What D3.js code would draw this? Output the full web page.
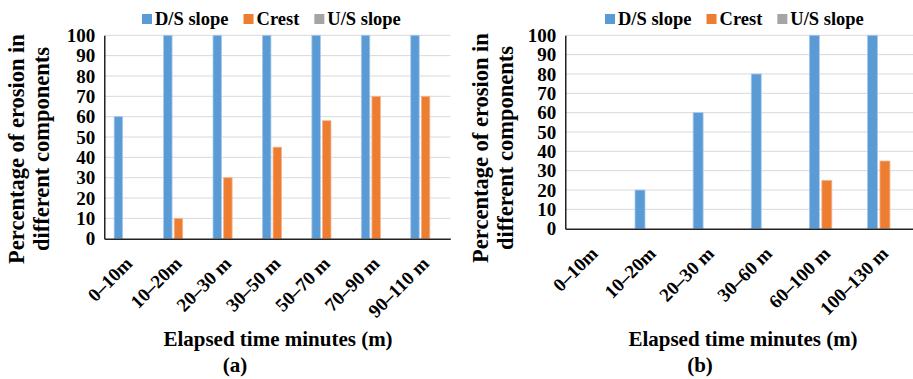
<!DOCTYPE html>
<html>
<head>
<meta charset="utf-8">
<script src="https://cdn.jsdelivr.net/npm/d3@7"></script>
<style>
  body { margin: 0; background: #fff; }
</style>
</head>
<body>
<div id="chart"></div>
<script>
// series shared by both panels
const seriesNames = ["D/S slope", "Crest", "U/S slope"];
const seriesColors = ["#5b9bd5", "#ed7d31", "#a5a5a5"];
const seriesStroke = ["#a9c9e9", "#f5b48f", "#cfcfcf"];
const yTicks = [0, 10, 20, 30, 40, 50, 60, 70, 80, 90, 100];

// panel (a)
const catsA = ["0–10m", "10–20m", "20–30 m", "30–50 m", "50–70 m", "70–90 m", "90–110 m"];
const dsA = [60, 100, 100, 100, 100, 100, 100];
const crestA = [0, 10, 30, 45, 58, 70, 70];
const usA = [0, 0, 0, 0, 0, 0, 0];

// panel (b)
const catsB = ["0–10m", "10–20m", "20–30 m", "30–60 m", "60–100 m", "100–130 m"];
const dsB = [0, 20, 60, 80, 100, 100];
const crestB = [0, 0, 0, 0, 25, 35];
const usB = [0, 0, 0, 0, 0, 0];

const FONT = "Liberation Serif";

const svg = d3.select("#chart").append("svg")
    .attr("width", 913)
    .attr("height", 379)
    .attr("font-family", FONT)
    .attr("font-weight", "bold");

function label(sel, size) {
    return sel.attr("font-family", FONT)
        .attr("font-weight", "bold")
        .attr("font-size", size)
        .attr("fill", "#000");
}

function drawPanel(cfg) {
    const g = svg.append("g");
    const values = cfg.series;

    const x = d3.scaleBand()
        .domain(cfg.cats)
        .range([cfg.left, cfg.right]);

    const xs = d3.scaleBand()
        .domain(d3.range(seriesNames.length))
        .range([0, x.bandwidth()])
        .paddingInner(0.2)
        .paddingOuter(0.93);

    const y = d3.scaleLinear()
        .domain([0, 100])
        .range([cfg.bottom, cfg.top]);

    // gridlines
    g.append("g")
        .selectAll("line")
        .data(yTicks.slice(1))
        .join("line")
        .attr("x1", cfg.left)
        .attr("x2", cfg.right)
        .attr("y1", d => y(d))
        .attr("y2", d => y(d))
        .attr("stroke", "#d9d9d9")
        .attr("stroke-width", 1);

    // y axis
    const yAxis = g.append("g")
        .attr("transform", "translate(" + cfg.left + ",0)")
        .call(d3.axisLeft(y).tickValues(yTicks).tickSize(0).tickPadding(9));
    yAxis.attr("font-family", FONT);
    yAxis.select(".domain").attr("stroke", "#000").attr("stroke-width", 1.3);
    label(yAxis.selectAll("text"), 19);

    // bars
    seriesNames.forEach((name, si) => {
        g.append("g")
            .selectAll("rect")
            .data(values[si].map((v, i) => ({cat: cfg.cats[i], v: v})).filter(d => d.v > 0))
            .join("rect")
            .attr("x", d => x(d.cat) + xs(si))
            .attr("width", xs.bandwidth())
            .attr("y", d => y(d.v))
            .attr("height", d => y(0) - y(d.v))
            .attr("fill", seriesColors[si])
            .attr("stroke", seriesStroke[si])
            .attr("stroke-width", 0.8);
    });

    // x axis
    const xAxis = g.append("g")
        .attr("transform", "translate(0," + cfg.bottom + ")")
        .call(d3.axisBottom(x).tickSize(0).tickSizeOuter(0));
    xAxis.attr("font-family", FONT);
    xAxis.select(".domain").attr("stroke", "#222").attr("stroke-width", 1.5);
    label(xAxis.selectAll("text"), 19)
        .attr("text-anchor", "end")
        .attr("dy", null)
        .attr("y", 0)
        .attr("transform", "translate(4.5,26) rotate(-45)");

    // y title
    const ty = label(g.append("text"), 22.5)
        .attr("text-anchor", "middle")
        .attr("transform", "translate(" + cfg.yTitleX + "," + cfg.yTitleY + ") rotate(-90)");
    ty.append("tspan").attr("x", 0).attr("y", 0).text("Percentage of erosion in");
    ty.append("tspan").attr("x", 0).attr("y", 25).text("different components");

    // x title and panel label
    label(g.append("text"), 21)
        .attr("x", cfg.xTitleX)
        .attr("y", 346)
        .attr("text-anchor", "middle")
        .text("Elapsed time minutes (m)");

    label(g.append("text"), 21)
        .attr("x", cfg.labelX)
        .attr("y", 372)
        .attr("text-anchor", "middle")
        .text(cfg.label);

    // legend
    let lx = cfg.legendX;
    seriesNames.forEach((name, si) => {
        g.append("rect")
            .attr("x", lx)
            .attr("y", 14)
            .attr("width", 10)
            .attr("height", 10)
            .attr("fill", seriesColors[si]);
        const t = label(g.append("text"), 18.5)
            .attr("x", lx + 13)
            .attr("y", 25)
            .text(name);
        lx += 13 + t.node().getComputedTextLength() + 15;
    });
}

drawPanel({
    cats: catsA, series: [dsA, crestA, usA],
    left: 104.3, right: 450.3, top: 35.3, bottom: 238.7,
    yTitleX: 24, yTitleY: 149,
    xTitleX: 278, labelX: 235, label: "(a)",
    legendX: 142
});

drawPanel({
    cats: catsB, series: [dsB, crestB, usB],
    left: 565.3, right: 914, top: 35.3, bottom: 228.7,
    yTitleX: 488, yTitleY: 148,
    xTitleX: 743, labelX: 700, label: "(b)",
    legendX: 605
});
</script>
</body>
</html>
